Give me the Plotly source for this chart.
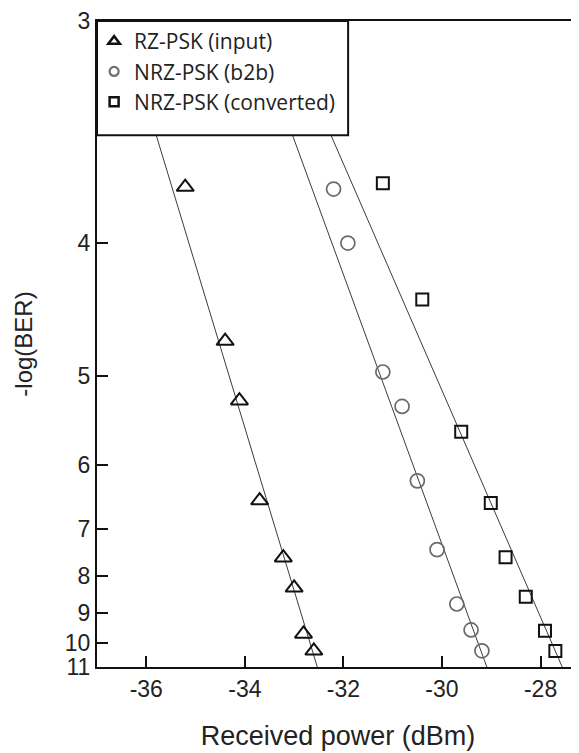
import plotly.graph_objects as go

# ---- data ----
tri_x = [-35.21, -34.40, -34.11, -33.70, -33.22, -33.00, -32.81, -32.60]
tri_v = [3.69, 4.69, 5.24, 6.52, 7.58, 8.29, 9.68, 10.31]

cir_x = [-32.20, -31.91, -31.20, -30.81, -30.50, -30.10, -29.70, -29.41, -29.19]
cir_v = [3.70, 4.00, 4.96, 5.30, 6.22, 7.41, 8.73, 9.54, 10.31]

sq_x = [-31.20, -30.40, -29.61, -29.01, -28.71, -28.30, -27.91, -27.70]
sq_v = [3.67, 4.37, 5.58, 6.56, 7.57, 8.53, 9.57, 10.32]

# fitted lines: x at -log(BER) = 3 and 11
fit_v = [3, 11]
fit_tri_x = [-36.50, -32.53]
fit_cir_x = [-33.88, -29.09]
fit_sq_x = [-33.26, -27.56]

y_ticks = [3, 4, 5, 6, 7, 8, 9, 10, 11]
x_ticks = [-36, -34, -32, -30, -28]

names = ["RZ-PSK (input)", "NRZ-PSK (b2b)", "NRZ-PSK (converted)"]


def t(v):
    # BER-style axis: position linear in 1/(-log BER)
    return [1.0 / a for a in v]


fig = go.Figure()

for fx in (fit_tri_x, fit_cir_x, fit_sq_x):
    fig.add_trace(go.Scatter(x=fx, y=t(fit_v), mode="lines",
                             line=dict(color="#3c3c3c", width=1),
                             showlegend=False, hoverinfo="skip"))

styles = [
    dict(symbol="triangle-up-open", size=15, color="#111111", lw=2),
    dict(symbol="circle-open", size=14, color="#6a6a6a", lw=1.7),
    dict(symbol="square-open", size=12, color="#111111", lw=2),
]
series = [(tri_x, tri_v), (cir_x, cir_v), (sq_x, sq_v)]

for (xs, vs), st, nm in zip(series, styles, names):
    fig.add_trace(go.Scatter(x=xs, y=t(vs), mode="markers", name=nm,
                             showlegend=False,
                             marker=dict(symbol=st["symbol"], size=st["size"],
                                         color=st["color"],
                                         line=dict(width=st["lw"], color=st["color"]))))

leg_styles = [
    dict(symbol="triangle-up-open", size=10, color="#111111", lw=2.5),
    dict(symbol="circle-open", size=9, color="#707070", lw=2.2),
    dict(symbol="square-open", size=9, color="#111111", lw=2.5),
]
for st, nm in zip(leg_styles, names):
    fig.add_trace(go.Scatter(x=[None], y=[None], mode="markers", name=nm,
                             marker=dict(symbol=st["symbol"], size=st["size"],
                                         color=st["color"],
                                         line=dict(width=st["lw"], color=st["color"]))))

tick_font = dict(family="Liberation Sans, Arial, sans-serif", size=23, color="#222222")

# the page body adds an 8px offset, so the figure is sized to fit the window
fig.update_layout(
    width=571, height=745,
    margin=dict(l=89, r=0, t=10, b=86),
    paper_bgcolor="white", plot_bgcolor="white",
    showlegend=True,
    legend=dict(x=-0.006, y=1.0, xanchor="left", yanchor="top",
                bgcolor="rgba(0,0,0,0)", borderwidth=0,
                font=dict(family="Open Sans, sans-serif", size=21, color="#222222"),
                itemwidth=30),
    shapes=[dict(type="rect", xref="paper", yref="paper",
                 x0=0, x1=0.521, y0=0.823, y1=1.0,
                 fillcolor="white", line=dict(color="#111111", width=2),
                 layer="above")],
    xaxis=dict(range=[-37, -27.22], tickvals=x_ticks,
               ticktext=[str(v) for v in x_ticks],
               ticks="inside", ticklen=11, tickwidth=2, tickcolor="#111111",
               showline=True, linewidth=2, linecolor="#111111", mirror=True,
               showgrid=False, zeroline=False, tickfont=tick_font,
               title=dict(text="Received power (dBm)",
                          font=dict(family="Liberation Sans, Arial, sans-serif",
                                    size=27, color="#222222"),
                          standoff=26)),
    yaxis=dict(range=[1.0 / 11, 1.0 / 3], tickvals=t(y_ticks),
               ticktext=[str(v) for v in y_ticks],
               ticklabeloverflow="allow",
               ticks="inside", ticklen=11, tickwidth=2, tickcolor="#111111",
               showline=True, linewidth=2, linecolor="#111111",
               showgrid=False, zeroline=False, tickfont=tick_font,
               title=dict(text="-log(BER)",
                          font=dict(family="Liberation Sans, Arial, sans-serif",
                                    size=24, color="#222222"),
                          standoff=25)),
)

fig.write_html("out.html")
